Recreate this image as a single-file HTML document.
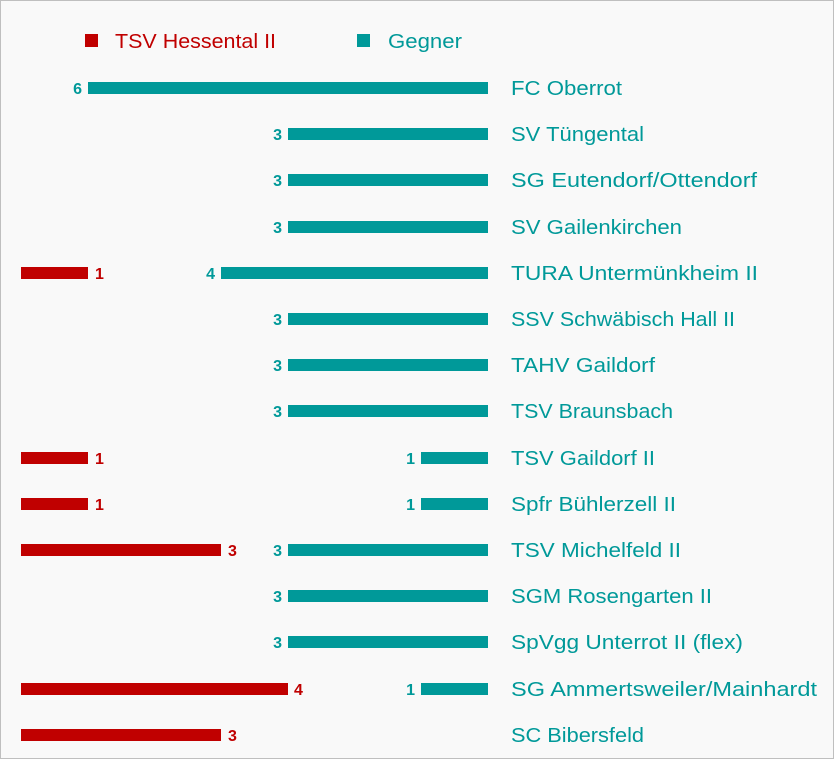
<!DOCTYPE html><html><head><style>body{margin:0;background:#fff}svg{display:block}</style></head><body>
<svg width="834" height="759" xmlns="http://www.w3.org/2000/svg" font-family="Liberation Sans, sans-serif">
<rect x="0.5" y="0.5" width="833" height="758" fill="#f9f9f9" stroke="#bfbfbf"/>
<rect x="85" y="34" width="13" height="13" fill="#c00000"/>
<text x="115" y="48" font-size="20" fill="#c00000" textLength="161" lengthAdjust="spacingAndGlyphs">TSV Hessental II</text>
<rect x="357" y="34" width="13" height="13" fill="#009999"/>
<text x="388" y="48" font-size="20" fill="#009999" textLength="74" lengthAdjust="spacingAndGlyphs">Gegner</text>
<g font-size="20" fill="#009999" lengthAdjust="spacingAndGlyphs">
<text x="511" y="95" textLength="111" lengthAdjust="spacingAndGlyphs">FC Oberrot</text>
<text x="511" y="141" textLength="133" lengthAdjust="spacingAndGlyphs">SV Tüngental</text>
<text x="511" y="187" textLength="246" lengthAdjust="spacingAndGlyphs">SG Eutendorf/Ottendorf</text>
<text x="511" y="234" textLength="171" lengthAdjust="spacingAndGlyphs">SV Gailenkirchen</text>
<text x="511" y="280" textLength="247" lengthAdjust="spacingAndGlyphs">TURA Untermünkheim II</text>
<text x="511" y="326" textLength="224" lengthAdjust="spacingAndGlyphs">SSV Schwäbisch Hall II</text>
<text x="511" y="372" textLength="144" lengthAdjust="spacingAndGlyphs">TAHV Gaildorf</text>
<text x="511" y="418" textLength="162" lengthAdjust="spacingAndGlyphs">TSV Braunsbach</text>
<text x="511" y="465" textLength="144" lengthAdjust="spacingAndGlyphs">TSV Gaildorf II</text>
<text x="511" y="511" textLength="165" lengthAdjust="spacingAndGlyphs">Spfr Bühlerzell II</text>
<text x="511" y="557" textLength="170" lengthAdjust="spacingAndGlyphs">TSV Michelfeld II</text>
<text x="511" y="603" textLength="201" lengthAdjust="spacingAndGlyphs">SGM Rosengarten II</text>
<text x="511" y="649" textLength="232" lengthAdjust="spacingAndGlyphs">SpVgg Unterrot II (flex)</text>
<text x="511" y="696" textLength="306" lengthAdjust="spacingAndGlyphs">SG Ammertsweiler/Mainhardt</text>
<text x="511" y="742" textLength="133" lengthAdjust="spacingAndGlyphs">SC Bibersfeld</text>
</g>
<g fill="#009999">
<rect x="88" y="82" width="400" height="12"/>
<rect x="288" y="128" width="200" height="12"/>
<rect x="288" y="174" width="200" height="12"/>
<rect x="288" y="221" width="200" height="12"/>
<rect x="221" y="267" width="267" height="12"/>
<rect x="288" y="313" width="200" height="12"/>
<rect x="288" y="359" width="200" height="12"/>
<rect x="288" y="405" width="200" height="12"/>
<rect x="421" y="452" width="67" height="12"/>
<rect x="421" y="498" width="67" height="12"/>
<rect x="288" y="544" width="200" height="12"/>
<rect x="288" y="590" width="200" height="12"/>
<rect x="288" y="636" width="200" height="12"/>
<rect x="421" y="683" width="67" height="12"/>
</g>
<g font-size="16" font-weight="bold" fill="#009999" text-anchor="end">
<text x="82" y="94">6</text>
<text x="282" y="140">3</text>
<text x="282" y="186">3</text>
<text x="282" y="233">3</text>
<text x="215" y="279">4</text>
<text x="282" y="325">3</text>
<text x="282" y="371">3</text>
<text x="282" y="417">3</text>
<text x="415" y="464">1</text>
<text x="415" y="510">1</text>
<text x="282" y="556">3</text>
<text x="282" y="602">3</text>
<text x="282" y="648">3</text>
<text x="415" y="695">1</text>
</g>
<g fill="#c00000">
<rect x="21" y="267" width="67" height="12"/>
<rect x="21" y="452" width="67" height="12"/>
<rect x="21" y="498" width="67" height="12"/>
<rect x="21" y="544" width="200" height="12"/>
<rect x="21" y="683" width="267" height="12"/>
<rect x="21" y="729" width="200" height="12"/>
</g>
<g font-size="16" font-weight="bold" fill="#c00000">
<text x="95" y="279">1</text>
<text x="95" y="464">1</text>
<text x="95" y="510">1</text>
<text x="228" y="556">3</text>
<text x="294" y="695">4</text>
<text x="228" y="741">3</text>
</g>
</svg></body></html>
